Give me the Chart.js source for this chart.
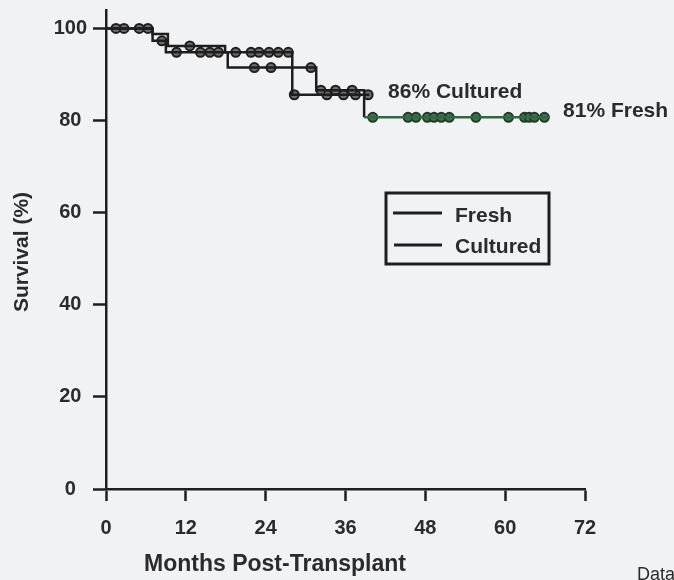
<!DOCTYPE html>
<html>
<head>
<meta charset="utf-8">
<script src="https://cdn.jsdelivr.net/npm/chart.js@4.4.0/dist/chart.umd.min.js"></script>
<style>
  html, body { margin: 0; padding: 0; background: #f1f2f4; }
  #wrap { width: 674px; height: 580px; position: relative; }
</style>
</head>
<body>
<div id="wrap"><canvas id="survival-chart"></canvas></div>
<script>
// Kaplan-Meier steps: month of each drop and survival (%) after it
const freshMonths = [0, 7.0, 9.0, 18.3, 31.6, 38.8, 66.6];
const freshSurvival = [100, 97.3, 94.8, 91.5, 86.6, 80.7, 80.7];
const culturedMonths = [0, 7.0, 9.3, 17.9, 28.0, 39.6];
const culturedSurvival = [100, 98.8, 96.2, 94.8, 85.6, 85.6];

// censored patients (the circles)
const freshCensorMonths = [1.5, 5.0, 8.4, 10.6, 14.2, 15.6, 16.9, 22.3, 24.8, 30.8, 32.3, 34.5, 37.0,
  40.1, 45.4, 46.6, 48.3, 49.3, 50.4, 51.6, 55.6, 60.5, 62.9, 63.6, 64.4, 65.9];
const freshCensorSurvival = [100, 100, 97.3, 94.8, 94.8, 94.8, 94.8, 91.5, 91.5, 91.5, 86.6, 86.6, 86.6,
  80.7, 80.7, 80.7, 80.7, 80.7, 80.7, 80.7, 80.7, 80.7, 80.7, 80.7, 80.7, 80.7];
const culturedCensorMonths = [2.7, 6.3, 12.6, 19.5, 21.8, 23.0, 24.5, 25.9, 27.4, 28.3, 33.2, 35.7, 37.5, 39.4];
const culturedCensorSurvival = [100, 100, 96.2, 94.8, 94.8, 94.8, 94.8, 94.8, 94.8, 85.6, 85.6, 85.6, 85.6, 85.6];

const xTickValues = [0, 12, 24, 36, 48, 60, 72];
const yTickValues = [0, 20, 40, 60, 80, 100];

const seriesNames = ["Fresh", "Cultured"];
const endLabels = ["81% Fresh", "86% Cultured"];

const ink = "#1e1e1e";
const textInk = "#2b2b2b";
const green = "#2f6a3f";
const tailStart = 38.8; // fresh line turns green here in the original
const fontFamily = '"Liberation Sans", Arial, sans-serif';

function toPoints(xs, ys) {
  return xs.map((x, i) => ({ x: x, y: ys[i] }));
}

const labelsPlugin = {
  id: "labels",
  afterDraw(chart) {
    const ctx = chart.ctx;
    const xs = chart.scales.x;
    const ys = chart.scales.y;
    ctx.save();
    ctx.fillStyle = textInk;
    ctx.textBaseline = "middle";

    // end-of-curve labels
    ctx.font = "bold 21px " + fontFamily;
    ctx.textAlign = "left";
    ctx.fillText(endLabels[1], xs.getPixelForValue(42.4), ys.getPixelForValue(86.1));
    ctx.fillText(endLabels[0], xs.getPixelForValue(68.7), ys.getPixelForValue(82.0));

    // axis titles
    ctx.textAlign = "center";
    ctx.font = "bold 23px " + fontFamily;
    ctx.fillText("Months Post-Transplant", 275, 565);
    ctx.save();
    ctx.translate(22, 252);
    ctx.rotate(-Math.PI / 2);
    ctx.font = "bold 21px " + fontFamily;
    ctx.fillText("Survival (%)", 0, 0);
    ctx.restore();

    // cut-off source note at the bottom right
    ctx.textAlign = "left";
    ctx.textBaseline = "alphabetic";
    ctx.font = "18px " + fontFamily;
    ctx.fillText("Data", 637, 580);

    // legend box
    ctx.strokeStyle = ink;
    ctx.lineWidth = 3;
    ctx.strokeRect(386, 193, 163, 71);
    ctx.beginPath();
    ctx.moveTo(393, 213); ctx.lineTo(442, 213);
    ctx.moveTo(394, 245); ctx.lineTo(442, 245);
    ctx.stroke();
    ctx.font = "bold 21px " + fontFamily;
    ctx.fillText(seriesNames[0], 455, 222);
    ctx.fillText(seriesNames[1], 455, 253);
    ctx.restore();
  }
};

new Chart(document.getElementById("survival-chart"), {
  type: "line",
  data: {
    datasets: [
      {
        label: seriesNames[0],
        data: toPoints(freshMonths, freshSurvival),
        stepped: "before",
        borderColor: ink,
        borderWidth: 2.5,
        pointRadius: 0,
        fill: false,
        segment: {
          borderColor: (c) => (c.p0.parsed.x >= tailStart ? green : ink),
        },
      },
      {
        label: seriesNames[1],
        data: toPoints(culturedMonths, culturedSurvival),
        stepped: "before",
        borderColor: ink,
        borderWidth: 2.5,
        pointRadius: 0,
        fill: false,
      },
      {
        label: seriesNames[0] + " censored",
        data: toPoints(freshCensorMonths, freshCensorSurvival),
        showLine: false,
        pointRadius: 4.5,
        pointBorderWidth: 2,
        pointBackgroundColor: (c) => (c.raw && c.raw.x >= tailStart ? "#4b6a55" : "#6e6e6e"),
        pointBorderColor: (c) => (c.raw && c.raw.x >= tailStart ? "#1f3a28" : ink),
      },
      {
        label: seriesNames[1] + " censored",
        data: toPoints(culturedCensorMonths, culturedCensorSurvival),
        showLine: false,
        pointRadius: 4.5,
        pointBorderWidth: 2,
        pointBackgroundColor: "#6e6e6e",
        pointBorderColor: ink,
      },
    ],
  },
  options: {
    responsive: true,
    maintainAspectRatio: false,
    animation: false,
    layout: { padding: { top: 10, right: 89, left: 0, bottom: 0 } },
    plugins: {
      legend: { display: false },
      tooltip: { enabled: false },
    },
    scales: {
      x: {
        type: "linear",
        min: 0,
        max: 72,
        afterBuildTicks: (scale) => {
          scale.ticks = xTickValues.map((v) => ({ value: v }));
        },
        afterFit: (scale) => {
          scale.height = 91;
        },
        border: { display: true, color: ink, width: 2.5 },
        grid: { drawOnChartArea: false, drawTicks: true, tickLength: 12, tickColor: ink, tickWidth: 2.5 },
        ticks: {
          padding: 15,
          color: textInk,
          maxRotation: 0,
          font: { family: fontFamily, size: 20, weight: "bold" },
        },
      },
      y: {
        type: "linear",
        min: 0,
        max: 104,
        afterBuildTicks: (scale) => {
          scale.ticks = yTickValues.map((v) => ({ value: v }));
        },
        afterFit: (scale) => {
          scale.width = 106;
          scale.paddingTop = 0;
          scale.paddingBottom = 0;
        },
        border: { display: true, color: ink, width: 2.5 },
        grid: { drawOnChartArea: false, drawTicks: true, tickLength: 13, tickColor: ink, tickWidth: 2.5 },
        ticks: {
          padding: 6,
          crossAlign: "center",
          color: textInk,
          font: { family: fontFamily, size: 20, weight: "bold" },
        },
      },
    },
  },
  plugins: [labelsPlugin],
});
</script>
</body>
</html>
